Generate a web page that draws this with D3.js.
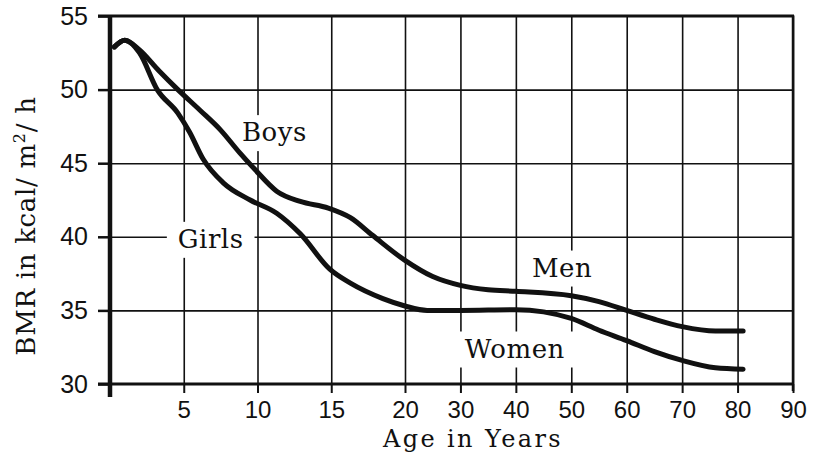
<html>
	<head>
		<meta charset="utf-8">
		<title>BMR by age</title>
		<style>
			body { margin: 0; background: #fff; }
		</style>
	</head>
	<body>
		<script src="https://cdn.jsdelivr.net/npm/d3@7/dist/d3.min.js" charset="utf-8"></script>
		<script>
			var width = 813;
			var height = 453;

			// x ticks (age scale changes at 20)
			var xTicks = [5, 10, 15, 20, 30, 40, 50, 60, 70, 80, 90];
			var yTicks = [30, 35, 40, 45, 50, 55];

			// boys / men curve
			var maleAge = [0.3, 1.0, 2.0, 3.3, 4.6, 6.1, 7.5, 8.8, 9.8, 11.3, 12.9, 14.8, 16.3, 17.8, 20, 25, 30, 35, 40, 50, 55, 60, 65, 70, 76, 81];
			var maleBMR = [52.9, 53.35, 52.7, 51.3, 50.0, 48.6, 47.25, 45.7, 44.6, 43.1, 42.4, 41.95, 41.3, 40.1, 38.4, 37.3, 36.7, 36.4, 36.3, 36.0, 35.6, 35.0, 34.4, 33.9, 33.6, 33.6];

			// girls / women curve
			var femaleAge = [0.3, 1.0, 2.0, 3.2, 4.6, 5.4, 6.3, 7.7, 9.5, 11.3, 12.9, 14.9, 16.3, 18.5, 20, 24, 30, 40, 45, 50, 55, 60, 65, 70, 76, 81];
			var femaleBMR = [52.9, 53.35, 52.5, 50.0, 48.4, 47.1, 45.3, 43.65, 42.5, 41.6, 40.2, 37.8, 36.85, 35.8, 35.3, 35.0, 35.0, 35.05, 34.9, 34.45, 33.65, 32.95, 32.2, 31.6, 31.1, 31.0];

			// label text, age and BMR of its left baseline
			var labelText = ["Boys", "Girls", "Men", "Women"];
			var labelAge = [8.95, 4.6, 42.9, 30.8];
			var labelBMR = [46.5, 39.25, 37.3, 31.8];

			var svg = d3.select("body")
						.append("svg")
						.attr("width", width)
						.attr("height", height);

			var x = d3.scaleLinear()
					  .domain([0, 20, 90])
					  .range([110, 405, 793]);
			var y = d3.scaleLinear()
					  .domain([30, 55])
					  .range([384, 16]);

			// grid
			svg.append("g")
			   .attr("transform", "translate(0,16)")
			   .call(d3.axisBottom(x).tickValues(xTicks).tickSize(368).tickFormat(""))
			   .call(function(g){ g.select(".domain").remove(); })
			   .selectAll("line")
			   .attr("stroke", "#111")
			   .attr("stroke-width", 1.6);
			svg.append("g")
			   .attr("transform", "translate(110,0)")
			   .call(d3.axisRight(y).tickValues([35, 40, 45, 50]).tickSize(683).tickFormat(""))
			   .call(function(g){ g.select(".domain").remove(); })
			   .selectAll("line")
			   .attr("stroke", "#111")
			   .attr("stroke-width", 1.6);

			// frame top / bottom / right
			svg.append("line").attr("x1", 98).attr("x2", 794).attr("y1", y(55)).attr("y2", y(55))
			   .attr("stroke", "#111").attr("stroke-width", 3);
			svg.append("line").attr("x1", 98).attr("x2", 794).attr("y1", y(30)).attr("y2", y(30))
			   .attr("stroke", "#111").attr("stroke-width", 3);
			svg.append("line").attr("x1", x(90)).attr("x2", x(90)).attr("y1", y(55) - 1).attr("y2", y(30) + 7)
			   .attr("stroke", "#111").attr("stroke-width", 2.5);

			// labels, white box behind breaks the grid
			var lab = svg.append("g")
						 .selectAll("g")
						 .data(labelText)
						 .enter()
						 .append("g")
						 .attr("transform", function(d, i){ return "translate(" + x(labelAge[i]) + "," + y(labelBMR[i]) + ")"; });
			var rects = lab.append("rect")
						   .attr("y", -26)
						   .attr("height", 36)
						   .attr("fill", "#fff");
			var texts = lab.append("text")
						   .attr("font-family", "DejaVu Serif")
						   .attr("font-size", 26)
						   .attr("letter-spacing", 0.5)
						   .attr("fill", "#111")
						   .text(function(d){ return d; });
			texts.each(function(d, i){
				var w = this.getComputedTextLength();
				d3.select(rects.nodes()[i]).attr("x", -11).attr("width", w + 22);
			});

			// axes
			var yAxis = svg.append("g")
						   .attr("transform", "translate(110,0)")
						   .call(d3.axisLeft(y).tickValues(yTicks).tickSize(12).tickPadding(10));
			yAxis.select(".domain").remove();
			yAxis.selectAll("line").attr("stroke", "#111").attr("stroke-width", 2.5);
			yAxis.selectAll("text")
				 .attr("font-family", "Liberation Sans")
				 .attr("font-size", 25)
				 .attr("fill", "#111");

			var xAxis = svg.append("g")
						   .attr("transform", "translate(0,384)")
						   .call(d3.axisBottom(x).tickValues(xTicks).tickSize(9).tickPadding(8));
			xAxis.select(".domain").remove();
			xAxis.selectAll("line").attr("stroke", "#111").attr("stroke-width", 2);
			xAxis.selectAll("text")
				 .attr("font-family", "Liberation Sans")
				 .attr("font-size", 24)
				 .attr("fill", "#111");

			svg.append("line")
			   .attr("x1", 110).attr("x2", 110)
			   .attr("y1", 16).attr("y2", 397)
			   .attr("stroke", "#111")
			   .attr("stroke-width", 4.5);

			// curves
			var line = d3.line()
						 .x(function(d){ return x(d[0]); })
						 .y(function(d){ return y(d[1]); })
						 .curve(d3.curveMonotoneX);
			var curves = [d3.zip(maleAge, maleBMR), d3.zip(femaleAge, femaleBMR)];
			svg.selectAll(".curve")
			   .data(curves)
			   .enter()
			   .append("path")
			   .attr("class", "curve")
			   .attr("fill", "none")
			   .attr("stroke", "#111")
			   .attr("stroke-width", 5)
			   .attr("stroke-linecap", "round")
			   .attr("d", line);

			// titles
			svg.append("text")
			   .attr("x", 473)
			   .attr("y", 447)
			   .attr("text-anchor", "middle")
			   .attr("font-family", "DejaVu Serif")
			   .attr("font-size", 24)
			   .attr("letter-spacing", 2.4)
			   .attr("fill", "#111")
			   .text("Age in Years");

			var yt = svg.append("text")
						.attr("transform", "translate(35,226) rotate(-90)")
						.attr("text-anchor", "middle")
						.attr("font-family", "DejaVu Serif")
						.attr("font-size", 26)
						.attr("letter-spacing", 0.7)
						.attr("fill", "#111");
			yt.append("tspan").text("BMR in kcal/ m");
			yt.append("tspan").attr("dy", -10).attr("font-size", 16).text("2");
			yt.append("tspan").attr("dy", 10).text("/ h");
		</script>
	</body>
</html>
